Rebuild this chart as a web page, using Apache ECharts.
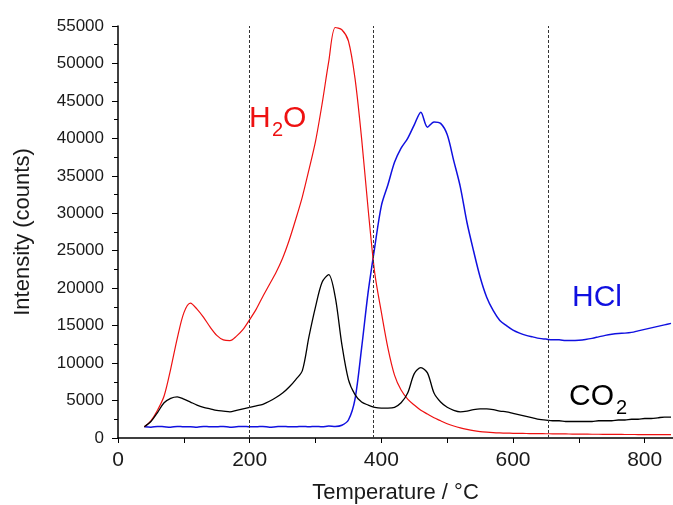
<!DOCTYPE html>
<html>
<head>
<meta charset="utf-8">
<script src="https://cdn.jsdelivr.net/npm/echarts@6/dist/echarts.min.js"></script>
<style>
  html, body { margin: 0; padding: 0; background: #fff; }
  #chart { width: 673px; height: 505px; }
</style>
</head>
<body>
<div id="chart"></div>
<script>
// temperature (°C), one reading every 10 degrees
const temps = [
  40, 50, 60, 70, 80, 90, 100, 110, 120, 130, 140, 150, 160, 170, 180, 190,
  200, 210, 220, 230, 240, 250, 260, 270, 280, 290, 300, 310, 320, 330, 340, 350,
  360, 370, 380, 390, 400, 410, 420, 430, 440, 450, 460, 470, 480, 490, 500, 510,
  520, 530, 540, 550, 560, 570, 580, 590, 600, 610, 620, 630, 640, 650, 660, 670,
  680, 690, 700, 710, 720, 730, 740, 750, 760, 770, 780, 790, 800, 810, 820, 830, 840
];

const h2o = [
  1500, 2300, 3700, 5600, 9200, 13300, 16700, 18000, 17200, 16100, 14800, 13700, 13100, 13000, 13600, 14500,
  15800, 17200, 18900, 20500, 22100, 24000, 26400, 29200, 32200, 35800, 39600, 44600, 50200, 54800, 54500, 53000,
  48000, 40000, 30500, 22000, 16800, 12000, 8400, 6400, 5200, 4400, 3700, 3200, 2700, 2300, 1900, 1600,
  1350, 1150, 980, 860, 780, 720, 680, 650, 630, 610, 600, 590, 580, 570, 560, 550,
  540, 530, 520, 510, 500, 500, 490, 480, 480, 470, 470, 460, 460, 450, 450, 440, 440
];

const hcl = [
  1500, 1450, 1550, 1500, 1450, 1550, 1500, 1500, 1450, 1550, 1500, 1500, 1550, 1450, 1500, 1550,
  1500, 1500, 1550, 1450, 1500, 1550, 1500, 1500, 1550, 1500, 1550, 1500, 1600, 1550, 1700, 2400,
  5200, 12000, 19500, 25500, 31000, 33800, 36800, 38700, 40000, 41800, 43500, 41500, 42200, 42000, 40500, 37000,
  33500, 28800, 25000, 21500, 18800, 17000, 15700, 15000, 14400, 14000, 13700, 13500, 13300, 13200, 13100, 13100,
  13000, 13000, 13050, 13150, 13300, 13500, 13700, 13850, 13950, 14000, 14100, 14300, 14500, 14700, 14900, 15100, 15300
];

const co2 = [
  1500, 2200, 3400, 4700, 5300, 5500, 5200, 4800, 4400, 4100, 3900, 3700, 3600, 3500, 3700, 3900,
  4100, 4300, 4500, 4900, 5400, 6000, 6800, 7800, 9000, 13500, 17500, 20800, 21800, 18800, 12500, 7800,
  5800, 4800, 4400, 4100, 4000, 4000, 4100, 4700, 6000, 8600, 9400, 8700, 6000, 4800, 4100, 3700,
  3500, 3600, 3800, 3900, 3900, 3800, 3600, 3500, 3300, 3100, 2900, 2700, 2500, 2400, 2300, 2300,
  2200, 2200, 2200, 2200, 2200, 2300, 2300, 2300, 2400, 2400, 2500, 2500, 2600, 2600, 2700, 2800, 2800
];

const dividerTemps = [200, 388, 654];
const xLabelValues = [0, 200, 400, 600, 800];
const xTickValues = [0, 100, 200, 300, 400, 500, 600, 700, 800];

const font = 'Liberation Sans, Arial, sans-serif';
const ink = '#1a1a1a';

function pairs(ys) {
    return temps.map((t, i) => [t, ys[i]]);
}

function txt(str, x, y, size, color) {
    return {
        type: 'text',
        left: x,
        top: y,
        style: { text: str, fontSize: size, fontFamily: font, fill: color }
    };
}

const chart = echarts.init(document.getElementById('chart'));

chart.setOption({
    animation: false,
    backgroundColor: '#fff',
    grid: { left: 118, right: 0, top: 26, bottom: 67, outerBoundsMode: 'none' },
    xAxis: {
        type: 'value',
        min: 0,
        max: 843,
        name: 'Temperature / °C',
        nameLocation: 'middle',
        nameGap: 44,
        nameTextStyle: { fontSize: 22, fontFamily: font, color: ink },
        axisLine: { show: true, lineStyle: { color: '#000', width: 1.5 } },
        axisTick: { show: true, length: 5, customValues: xTickValues, lineStyle: { color: '#000' } },
        axisLabel: { customValues: xLabelValues, fontSize: 21, fontFamily: font, color: ink, margin: 12 },
        splitLine: { show: false }
    },
    yAxis: {
        type: 'value',
        min: 0,
        max: 55000,
        interval: 5000,
        name: 'Intensity (counts)',
        nameLocation: 'middle',
        nameGap: 84,
        nameTextStyle: { fontSize: 22, fontFamily: font, color: ink },
        axisLine: { show: true, lineStyle: { color: '#000', width: 1.5 } },
        axisTick: { show: true, length: 6, lineStyle: { color: '#000' } },
        minorTick: { show: true, splitNumber: 2, length: 4, lineStyle: { color: '#000' } },
        axisLabel: { fontSize: 17, fontFamily: font, color: ink, margin: 14, formatter: v => String(v) },
        splitLine: { show: false }
    },
    series: [
        {
            name: 'H2O',
            type: 'line',
            data: pairs(h2o),
            showSymbol: false,
            smooth: 0.3,
            lineStyle: { color: '#ee1111', width: 1.2 },
            markLine: {
                silent: true,
                symbol: 'none',
                label: { show: false },
                lineStyle: { color: '#333', width: 1, type: [3, 2] },
                data: dividerTemps.map(t => ({ xAxis: t }))
            },
            z: 3
        },
        {
            name: 'HCl',
            type: 'line',
            data: pairs(hcl),
            showSymbol: false,
            smooth: 0.3,
            lineStyle: { color: '#1010e0', width: 1.5 },
            z: 2
        },
        {
            name: 'CO2',
            type: 'line',
            data: pairs(co2),
            showSymbol: false,
            smooth: 0.3,
            lineStyle: { color: '#000', width: 1.3 },
            z: 4
        }
    ],
    graphic: [
        txt('H', 249, 104, 30, '#ee1111'),
        txt('2', 272, 120, 20, '#ee1111'),
        txt('O', 283, 104, 30, '#ee1111'),
        txt('HCl', 572, 283, 30, '#1010e0'),
        txt('CO', 569, 382, 30, '#000'),
        txt('2', 616, 398, 20, '#000')
    ]
});
</script>
</body>
</html>
